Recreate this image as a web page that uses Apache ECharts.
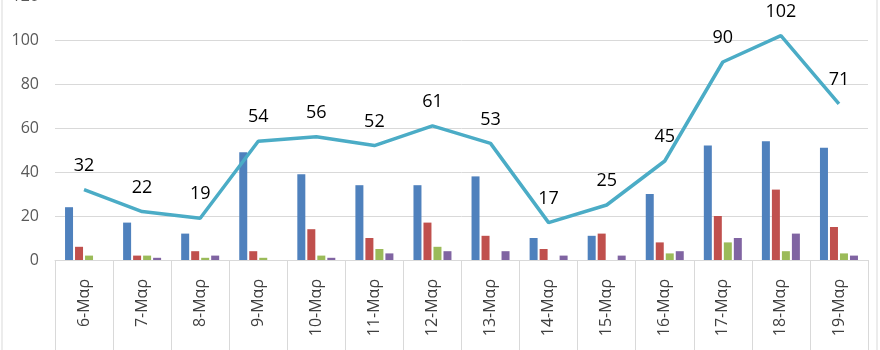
<!DOCTYPE html>
<html><head><meta charset="utf-8">
<script src="https://cdn.jsdelivr.net/npm/echarts@6/dist/echarts.min.js"></script>
<style>html,body{margin:0;padding:0;background:#fff;overflow:hidden}#c{width:880px;height:350px}</style>
</head><body><div id="c"></div>
<script>
const categories = ['6-Μαρ','7-Μαρ','8-Μαρ','9-Μαρ','10-Μαρ','11-Μαρ','12-Μαρ','13-Μαρ','14-Μαρ','15-Μαρ','16-Μαρ','17-Μαρ','18-Μαρ','19-Μαρ'];
const blueValues   = [24,17,12,49,39,34,34,38,10,11,30,52,54,51];
const redValues    = [6,2,4,4,14,10,17,11,5,12,8,20,32,15];
const greenValues  = [2,2,1,1,2,5,6,0,0,0,3,8,4,3];
const purpleValues = [0,1,2,0,1,3,4,4,2,2,4,10,12,2];
const totalValues  = [32,22,19,54,56,52,61,53,17,25,45,90,102,71];
const yTicks = [0,20,40,60,80,100,120];

const chart = echarts.init(document.getElementById('c'), null, {renderer:'canvas'});
const font = '"Open Sans", "Liberation Sans", sans-serif';
function bar(name, data, color){
  return {name, type:'bar', data, barWidth:8, barGap:'25%', itemStyle:{color}, silent:true};
}
chart.setOption({
  animation:false,
  grid:{left:55, right:12, top:-4, bottom:90, containLabel:false, outerBoundsMode:'none'},
  graphic:[
    {type:'line', shape:{x1:2,y1:0,x2:2,y2:350}, style:{stroke:'#d9d9d9', lineWidth:1}},
    {type:'line', shape:{x1:877,y1:0,x2:877,y2:350}, style:{stroke:'#d9d9d9', lineWidth:1}}
  ],
  xAxis:{
    type:'category', data:categories,
    axisLine:{show:true, lineStyle:{color:'#d9d9d9', width:1}},
    axisTick:{show:true, length:92, lineStyle:{color:'#d9d9d9'}},
    axisLabel:{rotate:90, margin:19, fontSize:16, color:'#404040', fontFamily:font}
  },
  yAxis:{
    type:'value', min:yTicks[0], max:yTicks[yTicks.length-1], interval:20,
    axisLine:{show:false}, axisTick:{show:false},
    axisLabel:{fontSize:16, color:'#595959', margin:16, fontFamily:font},
    splitLine:{lineStyle:{color:'#d9d9d9', width:1}}
  },
  series:[
    bar('A', blueValues, '#4f81bd'),
    bar('B', redValues, '#c0504d'),
    bar('C', greenValues, '#9bbb59'),
    bar('D', purpleValues, '#8064a2'),
    {name:'Total', type:'line', data:totalValues, symbol:'circle', symbolSize:2, showSymbol:true,
     itemStyle:{color:'rgba(0,0,0,0)'}, smooth:false, z:5,
     lineStyle:{color:'#4bacc6', width:3.5},
     labelLayout:{hideOverlap:false},
     label:{show:true, position:'top', distance:14, fontSize:18, color:'#000', fontFamily:font}}
  ]
});
</script></body></html>
